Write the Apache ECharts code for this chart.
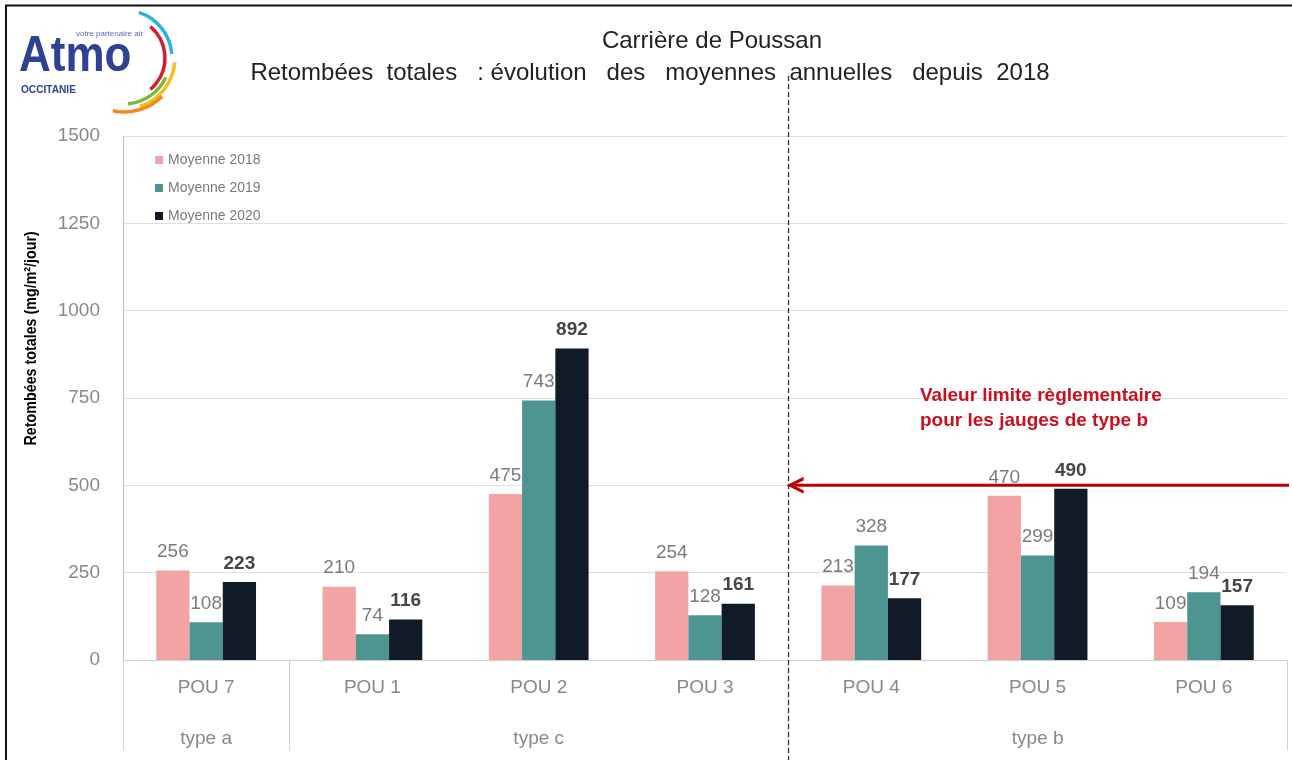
<!DOCTYPE html>
<html>
<head>
<meta charset="utf-8">
<script src="https://cdn.jsdelivr.net/npm/echarts@6/dist/echarts.min.js"></script>
<style>
  html, body { margin: 0; padding: 0; background: #fff; }
  #chart { width: 1292px; height: 760px; }
</style>
</head>
<body>
<div id="chart"></div>
<script>
const categories = ['POU 7', 'POU 1', 'POU 2', 'POU 3', 'POU 4', 'POU 5', 'POU 6']
const gaugeTypes = ['type a', '', 'type c', '', '', 'type b', '']
const moy2018 = [256, 210, 475, 254, 213, 470, 109]
const moy2019 = [108, 74, 743, 128, 328, 299, 194]
const moy2020 = [223, 116, 892, 161, 177, 490, 157]
const yTicks = [0, 250, 500, 750, 1000, 1250, 1500]
// limite réglementaire type b : flèche depuis la frontière POU 3 / POU 4
const limitValue = 500
const limitLine = [[4, limitValue], [7.03, limitValue]]
// frontières des groupes (en nombre de catégories)
const groupBounds = [0, 1, 4, 7]
const typeBBound = 4

const sans = '"Liberation Sans", Arial, sans-serif'
const chart = echarts.init(document.getElementById('chart'))

const barLabel = {
  show: true,
  position: 'top',
  distance: 9,
  fontFamily: sans,
  fontSize: 19,
  color: '#7a7a7a'
}

const option = {
  animation: false,
  backgroundColor: '#fff',
  legend: {
    orient: 'vertical',
    left: 150, top: 148,
    itemWidth: 8, itemHeight: 8, itemGap: 14,
    icon: 'rect',
    textStyle: { fontFamily: sans, fontSize: 14, color: '#7a7a7a' },
    data: ['Moyenne 2018', 'Moyenne 2019', 'Moyenne 2020']
  },
  grid: { left: 123, right: 5, top: 136, bottom: 100 },
  xAxis: [
    {
      type: 'category',
      data: categories,
      axisLine: { lineStyle: { color: '#d0d0d0' } },
      axisTick: { show: false },
      axisLabel: { margin: 18, fontFamily: sans, fontSize: 19, color: '#888' }
    },
    {
      type: 'value', min: 0, max: 7, show: false
    },
    {
      type: 'category',
      data: gaugeTypes,
      position: 'bottom',
      offset: 52,
      axisLine: { show: false },
      axisTick: { show: false },
      axisLabel: { margin: 17, fontFamily: sans, fontSize: 19, color: '#888', interval: 0 }
    }
  ],
  yAxis: {
    type: 'value',
    min: yTicks[0], max: yTicks[yTicks.length - 1], interval: 250,
    axisLine: { show: true, lineStyle: { color: '#bfbfbf' } },
    axisTick: { show: false },
    axisLabel: { margin: 23, fontFamily: sans, fontSize: 19, color: '#888', formatter: v => String(v) },
    splitLine: { lineStyle: { color: '#dedede' } }
  },
  series: [
    {
      name: 'Moyenne 2018', type: 'bar', data: moy2018,
      barGap: '0%', barCategoryGap: '40%',
      itemStyle: { color: '#f2a3a3' },
      label: barLabel
    },
    {
      name: 'Moyenne 2019', type: 'bar', data: moy2019,
      itemStyle: { color: '#4d9591' },
      label: barLabel
    },
    {
      name: 'Moyenne 2020', type: 'bar', data: moy2020,
      itemStyle: { color: '#111b27' },
      label: Object.assign({}, barLabel, { fontWeight: 'bold', color: '#454545' })
    },
    {
      name: 'limite', type: 'line',
      xAxisIndex: 1,
      data: limitLine,
      clip: false,
      silent: true,
      z: 5,
      lineStyle: { color: '#c00000', width: 3 },
      symbol: (v, p) => p.dataIndex === 0 ? 'path://M12,0 L0,6 L12,12 L12,9.5 L4.5,6 L12,2.5 Z' : 'none',
      symbolSize: [17, 17],
      symbolOffset: [7, 0],
      itemStyle: { color: '#c00000' },
      label: { show: false }
    }
  ]
}

chart.setOption(option)

// annotations placées via les échelles des axes
const px = b => Math.round(chart.convertToPixel({ xAxisIndex: 1 }, b)) + 0.5
const pyLimit = chart.convertToPixel({ yAxisIndex: 0 }, limitValue)
const yBase = chart.convertToPixel({ yAxisIndex: 0 }, 0)
const yNameCenter = (chart.convertToPixel({ yAxisIndex: 0 }, 1250) + chart.convertToPixel({ yAxisIndex: 0 }, 500)) / 2 - 16
const graphics = []

// titres
graphics.push({
  type: 'text', silent: true,
  x: 712, y: 41,
  style: { text: 'Carrière de Poussan', fontFamily: sans, fontSize: 24, fill: '#222', align: 'center', verticalAlign: 'middle' }
})
graphics.push({
  type: 'text', silent: true,
  x: 650, y: 73,
  style: {
    text: 'Retombées  totales   : évolution   des   moyennes  annuelles   depuis  2018',
    fontFamily: sans, fontSize: 24, fill: '#222', align: 'center', verticalAlign: 'middle'
  }
})

// nom de l'axe Y
graphics.push({
  type: 'text', silent: true,
  x: 31, y: yNameCenter, rotation: Math.PI / 2, scaleX: 0.84,
  style: {
    text: 'Retombées totales (mg/m²/jour)',
    fontFamily: sans, fontSize: 17, fontWeight: 'bold', fill: '#000', align: 'center', verticalAlign: 'middle'
  }
})

groupBounds.forEach(b => {
  graphics.push({
    type: 'line', silent: true,
    shape: { x1: px(b), y1: yBase, x2: px(b), y2: yBase + 90 },
    style: { stroke: '#d0d0d0', lineWidth: 1 }
  })
})

graphics.push({
  type: 'line', silent: true, z: 10,
  shape: { x1: px(typeBBound), y1: 76, x2: px(typeBBound), y2: 760 },
  style: { stroke: '#333', lineWidth: 1.3, lineDash: [5, 3] }
})

graphics.push({
  type: 'text', silent: true, z: 10,
  left: 920, top: pyLimit - 102,
  style: {
    text: 'Valeur limite règlementaire\npour les jauges de type b',
    fontFamily: sans, fontSize: 19, fontWeight: 'bold', fill: '#c8101e', lineHeight: 25
  }
})

// cadre (haut et gauche)
graphics.push({
  type: 'polyline', silent: true, z: 20,
  shape: { points: [[6, 760], [6, 5.5], [1292, 5.5]] },
  style: { fill: 'none', stroke: '#111', lineWidth: 2 }
})

// logo Atmo Occitanie
const arcs = [
  { r: 48, s: -72, e: -5, c: '#2bb3d8' },
  { r: 41, s: -50, e: 50, c: '#d0202e' },
  { r: 51, s: 5, e: 72, c: '#f0c020' },
  { r: 46, s: 25, e: 85, c: '#7ab840' },
  { r: 54, s: 45, e: 102, c: '#f08a20' }
]
arcs.forEach(a => {
  graphics.push({
    type: 'arc', silent: true,
    shape: { cx: 124, cy: 58, r: a.r, startAngle: a.s * Math.PI / 180, endAngle: a.e * Math.PI / 180 },
    style: { stroke: a.c, lineWidth: 3.5, fill: 'none' }
  })
})
graphics.push({
  type: 'text', silent: true,
  x: 19, y: 32, scaleX: 0.88,
  style: { text: 'Atmo', fontFamily: sans, fontSize: 50, fontWeight: 'bold', fill: '#2e4192' }
})
graphics.push({
  type: 'text', silent: true,
  x: 76, y: 30,
  style: { text: 'votre partenaire air', fontFamily: sans, fontSize: 8, fill: '#5a6ab0' }
})
graphics.push({
  type: 'text', silent: true,
  x: 21, y: 84, scaleX: 0.92,
  style: { text: 'OCCITANIE', fontFamily: sans, fontSize: 11, fontWeight: 'bold', fill: '#2e4192' }
})

chart.setOption({ graphic: graphics })

window.addEventListener('resize', () => {
  chart.resize()
})
</script>
</body>
</html>
